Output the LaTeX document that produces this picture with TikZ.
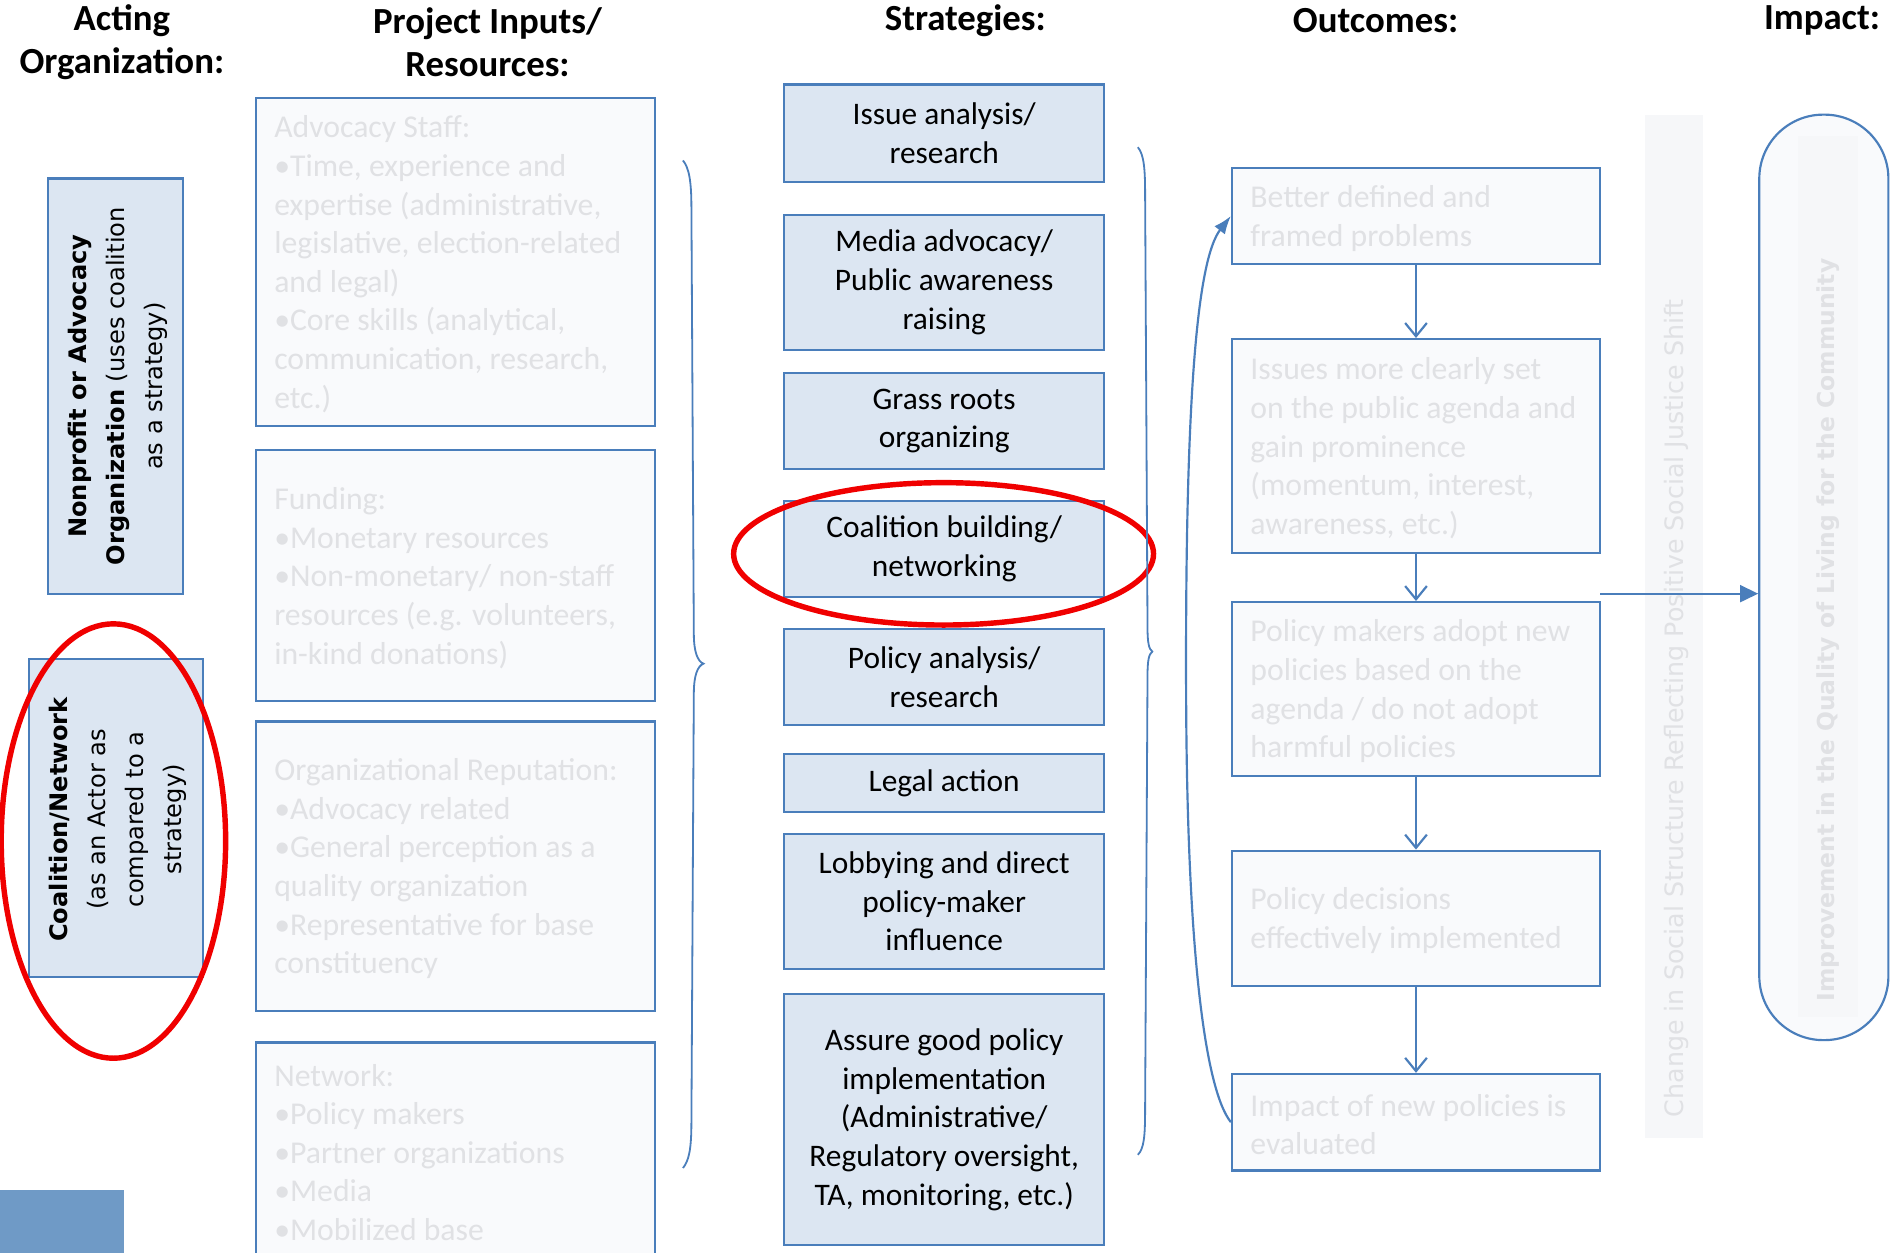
\documentclass[tikz,border=0pt]{standalone}
\usepackage{fontspec}
\setmainfont{Carlito}
\newfontfamily\dvs{DejaVu Sans}
\usetikzlibrary{arrows.meta,shapes.geometric,calc}
\definecolor{bblue}{RGB}{74,126,187}
\definecolor{sfill}{RGB}{220,230,242}
\definecolor{pfill}{RGB}{249,250,252}
\definecolor{ptext}{RGB}{224,225,228}
\definecolor{bandfill}{RGB}{246,247,249}
\definecolor{cornerblue}{RGB}{111,154,198}
\definecolor{ringred}{RGB}{240,0,0}
\tikzset{
  hdr/.style={font=\fontsize{30.5}{36}\selectfont\bfseries, align=center, inner sep=0pt},
  stratbox/.style={draw=bblue, fill=sfill, line width=1.8pt, minimum width=265pt, align=center,
    font=\fontsize{26}{32}\selectfont, inner sep=0pt},
  palebox/.style={draw=bblue, fill=pfill, line width=1.8pt, inner sep=0pt},
  paletext/.style={text=ptext, align=left, inner sep=0pt, anchor=west, font=\fontsize{26.3}{32}\selectfont},
  actorbox/.style={draw=bblue, fill=sfill, line width=1.8pt, inner sep=0pt},
  vtext/.style={rotate=90, align=center, font=\dvs\fontsize{20}{31.5}\selectfont, inner sep=0pt},
  redring/.style={ellipse, draw=ringred, line width=4.5pt, inner sep=0pt},
  bracestyle/.style={draw=bblue, line width=1.5pt},
  downarrow/.style={draw=bblue, line width=1.8pt, -{Straight Barb[length=11pt,width=18pt]}},
  curvearrow/.style={draw=bblue, line width=1.8pt, -{Latex[length=15pt,width=11pt]}},
  impactarrow/.style={draw=bblue, line width=1.8pt, -{Triangle[length=15pt,width=14pt]}},
}
\begin{document}
\begin{tikzpicture}[x=1pt,y=-1pt]
\useasboundingbox (0,0) rectangle (1568,1038);
\fill[white] (0,0) rectangle (1568,1038);

% headers
\node[hdr] (h1) at (101,35) {Acting\\Organization:};
\node[hdr] (h2) at (404,35) {Project Inputs/\\Resources:};
\node[hdr] (h3) at (800,17) {Strategies:};
\node[hdr] (h4) at (1140,17) {Outcomes:};
\node[hdr] (h5) at (1510,17) {Impact:};

% acting organization
\node[actorbox, minimum width=112pt, minimum height=344pt] (np) at (96,320) {};
\node[vtext] (nptext) at (98,320) {\textbf{Nonprofit or Advocacy}\\\textbf{Organization} (uses coalition\\as a strategy)};
\node[actorbox, minimum width=144pt, minimum height=264pt] (cn) at (96,678) {};
\node[vtext] (cntext) at (98,679) {\textbf{Coalition/Network}\\(as an Actor as\\compared to a\\strategy)};
\node[redring, minimum width=186pt, minimum height=360pt] (ring1) at (94,697) {};
\node[fill=cornerblue, minimum width=103pt, minimum height=60pt, inner sep=0pt] (corner) at (51.5,1016) {};

% inputs
\node[palebox, minimum width=331pt, minimum height=272pt] (in1) at (377.5,217) {};
\node[paletext] (in1t) at ([xshift=16pt,yshift=-2pt]in1.west) {Advocacy Staff:\\•Time, experience and\\expertise (administrative,\\legislative, election-related\\and legal)\\•Core skills (analytical,\\communication, research,\\etc.)};
\node[palebox, minimum width=331pt, minimum height=208pt] (in2) at (377.5,477) {};
\node[paletext] (in2t) at ([xshift=16pt,yshift=-2pt]in2.west) {Funding:\\•Monetary resources\\•Non-monetary/ non-staff\\resources (e.g. volunteers,\\in-kind donations)};
\node[palebox, minimum width=331pt, minimum height=240pt] (in3) at (377.5,718) {};
\node[paletext] (in3t) at ([xshift=16pt,yshift=-2pt]in3.west) {Organizational Reputation:\\•Advocacy related\\•General perception as a\\quality organization\\•Representative for base\\constituency};
\node[palebox, minimum width=331pt, minimum height=178pt] (in4) at (377.5,953) {};
\node[paletext] (in4t) at ([xshift=16pt,yshift=-2pt]in4.west) {Network:\\•Policy makers\\•Partner organizations\\•Media\\•Mobilized base};

% left brace
\draw[bracestyle] (566,133) .. controls (571,139) and (573,150) .. (573,172) -- (575,525)
  .. controls (575,540) and (578,548) .. (583,550) .. controls (578,552) and (575,560) .. (575,575)
  -- (573,930) .. controls (573,952) and (571,962) .. (566,968);

% strategies
\node[stratbox, minimum height=81pt] (s1) at (782.5,110.5) {Issue analysis/\\research};
\node[stratbox, minimum height=112pt] (s2) at (782.5,234) {Media advocacy/\\Public awareness\\raising};
\node[stratbox, minimum height=80pt] (s3) at (782.5,349) {Grass roots\\organizing};
\node[stratbox, minimum height=80pt] (s4) at (782.5,455) {Coalition building/\\networking};
\node[stratbox, minimum height=80pt] (s5) at (782.5,561) {Policy analysis/\\research};
\node[stratbox, minimum height=48pt] (s6) at (782.5,649) {Legal action};
\node[stratbox, minimum height=112pt] (s7) at (782.5,747) {Lobbying and direct\\policy-maker\\influence};
\node[stratbox, minimum height=208pt] (s8) at (782.5,928) {Assure good policy\\implementation\\(Administrative/\\Regulatory oversight,\\TA, monitoring, etc.)};
\node[redring, minimum width=348pt, minimum height=118pt] (ring2) at (782,459) {};

% right brace
\draw[bracestyle] (943,122) .. controls (948,128) and (949,140) .. (949,160) -- (951,520)
  .. controls (951,532) and (952,538) .. (955,540) .. controls (952,542) and (951,548) .. (951,560)
  -- (949,920) .. controls (949,942) and (948,952) .. (943,957);

% outcomes
\node[palebox, minimum width=305pt, minimum height=80pt] (o1) at (1173.5,179) {};
\node[paletext] (o1t) at ([xshift=16pt,yshift=-2pt]o1.west) {Better defined and\\framed problems};
\node[palebox, minimum width=305pt, minimum height=177pt] (o2) at (1173.5,369.5) {};
\node[paletext] (o2t) at ([xshift=16pt,yshift=-2pt]o2.west) {Issues more clearly set\\on the public agenda and\\gain prominence\\(momentum, interest,\\awareness, etc.)};
\node[palebox, minimum width=305pt, minimum height=144pt] (o3) at (1173.5,571) {};
\node[paletext] (o3t) at ([xshift=16pt,yshift=-2pt]o3.west) {Policy makers adopt new\\policies based on the\\agenda / do not adopt\\harmful policies};
\node[palebox, minimum width=305pt, minimum height=112pt] (o4) at (1173.5,761) {};
\node[paletext] (o4t) at ([xshift=16pt,yshift=-2pt]o4.west) {Policy decisions\\effectively implemented};
\node[palebox, minimum width=305pt, minimum height=80pt] (o5) at (1173.5,930) {};
\node[paletext] (o5t) at ([xshift=16pt,yshift=-2pt]o5.west) {Impact of new policies is\\evaluated};

\draw[downarrow] (o1.south) -- (o2.north);
\draw[downarrow] (o2.south) -- (o3.north);
\draw[downarrow] (o3.south) -- (o4.north);
\draw[downarrow] (o4.south) -- (o5.north);

\draw[curvearrow] (o5.west) .. controls (1000,905) and (984,800) .. (983,580)
  .. controls (982,330) and (992,215) .. (o1.west);

% social structure band
\node[fill=bandfill, minimum width=48pt, minimum height=848pt, inner sep=0pt] (band) at (1387,519) {};
\node[rotate=90, anchor=west, text=ptext, font=\dvs\fontsize{21}{25}\selectfont, inner sep=0pt] (bandtext) at (1389,926) {Change in Social Structure Reflecting Positive Social Justice Shift};

% impact
\node[draw=bblue, fill=pfill, line width=1.8pt, rounded corners=53pt, minimum width=107pt, minimum height=767pt, inner sep=0pt] (impact) at (1511.5,478.5) {};
\node[fill=bandfill, minimum width=50pt, minimum height=730pt, inner sep=0pt] (impband) at (1515,478) {};
\node[rotate=90, anchor=west, text=ptext, font=\dvs\bfseries\fontsize{19.4}{24}\selectfont, inner sep=0pt] (imptext) at (1515,830) {Improvement in the Quality of Living for the Community};

\coordinate (arrS) at (1326,492);
\draw[impactarrow] (arrS) -- (arrS -| impact.west);
\end{tikzpicture}
\end{document}
